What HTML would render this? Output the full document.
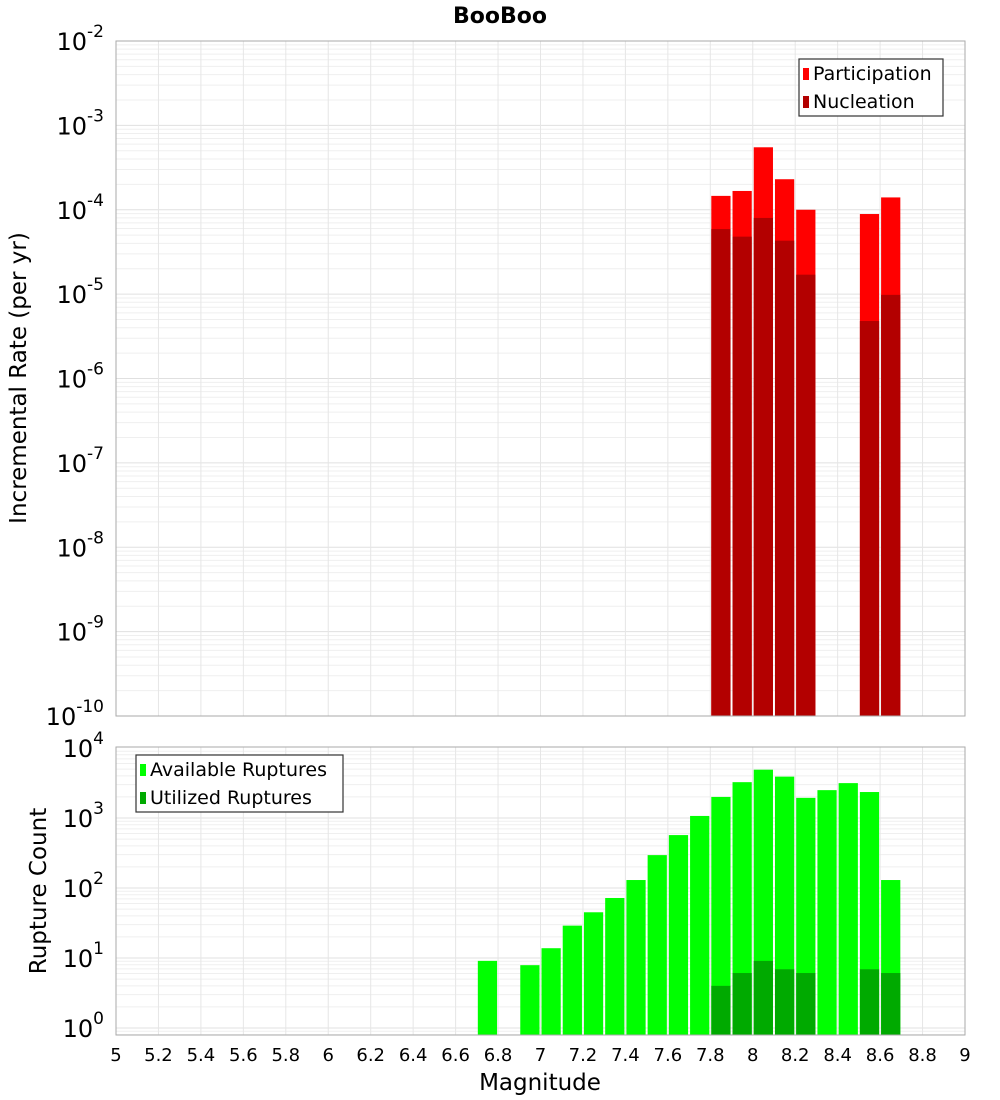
<!DOCTYPE html>
<html><head><meta charset="utf-8"><style>
body{margin:0;background:#fff;}
svg{display:block;font-family:"DejaVu Sans","Liberation Sans",sans-serif;}
</style></head><body>
<svg id="chart" width="1000" height="1100" viewBox="0 0 1000 1100" xmlns="http://www.w3.org/2000/svg">
<text x="500" y="23" text-anchor="middle" font-size="22" font-weight="bold">BooBoo</text>
<g id="top"></g><g id="bot"></g>
<text transform="translate(26,378) rotate(-90)" text-anchor="middle" font-size="23">Incremental Rate (per yr)</text>
<text transform="translate(46,891) rotate(-90)" text-anchor="middle" font-size="23">Rupture Count</text>
<text x="540" y="1090" text-anchor="middle" font-size="23">Magnitude</text>
</svg>
<script>
const topMags = [7.85, 7.95, 8.05, 8.15, 8.25, 8.55, 8.65];
const participation = [1.46e-4, 1.67e-4, 5.5e-4, 2.3e-4, 1.0e-4, 8.9e-5, 1.4e-4];
const nucleation = [5.9e-5, 4.8e-5, 8.0e-5, 4.3e-5, 1.7e-5, 4.8e-6, 9.8e-6];
const availMags = [6.75, 6.95, 7.05, 7.15, 7.25, 7.35, 7.45, 7.55, 7.65, 7.75, 7.85, 7.95, 8.05, 8.15, 8.25, 8.35, 8.45, 8.55, 8.65];
const available = [9.1, 7.9, 13.8, 29, 45, 72, 130, 295, 570, 1070, 2000, 3250, 4900, 3900, 1940, 2500, 3150, 2350, 130];
const utilMags = [7.85, 7.95, 8.05, 8.15, 8.25, 8.55, 8.65];
const utilized = [4.0, 6.1, 9.1, 6.9, 6.1, 6.9, 6.1];
const xTicks = [5,5.2,5.4,5.6,5.8,6,6.2,6.4,6.6,6.8,7,7.2,7.4,7.6,7.8,8,8.2,8.4,8.6,8.8,9];
const topExps = [-10,-9,-8,-7,-6,-5,-4,-3,-2];
const botExps = [0,1,2,3,4];

const NS="http://www.w3.org/2000/svg";
const X0=116,X1=965;
const xs=m=>X0+(m-5)/4*(X1-X0);
function mk(p,tag,at){const e=document.createElementNS(NS,tag);for(const k in at)e.setAttribute(k,at[k]);p.appendChild(e);return e;}
function panel(g,yTop,yBot,yFn,lo,hi,exps){
  mk(g,'rect',{x:X0,y:yTop,width:X1-X0,height:yBot-yTop,fill:'#fff'});
  for(let d=lo;d<hi;d++)for(let k=1;k<10;k++){const v=k*Math.pow(10,d);const y=yFn(v);if(y<yTop||y>yBot)continue;
    const l=mk(g,'line',{x1:X0,x2:X1,y1:y,y2:y,stroke:k==1?'#e0e0e0':'#efefef','stroke-width':1});
    }
  for(const t of xTicks){const x=xs(t);const l=mk(g,'line',{x1:x,x2:x,y1:yTop,y2:yBot,stroke:'#e6e6e6','stroke-width':1});
    }
  for(const e of exps){const y=yFn(Math.pow(10,e));
    const t=mk(g,'text',{x:104,y:y+9,'text-anchor':'end','font-size':24});
    
    const a=mk(t,'tspan',{});a.textContent='10';const b=mk(t,'tspan',{dy:-13,'font-size':17});b.textContent=String(e);}
}
function bars(g,mags,vals,yFn,yBot,color,name){
  mags.forEach((m,i)=>{const x0=xs(m-0.05)+1,x1=xs(m+0.05)-1,y=yFn(vals[i]);
    const r=mk(g,'rect',{x:x0,y:y,width:x1-x0,height:yBot-y,fill:color});
    });
}
function legend(g,x,y,w,items){
  const r=mk(g,'rect',{x:x,y:y,width:w,height:57,fill:'#fff',stroke:'#333','stroke-width':1.2});
  
  items.forEach((it,i)=>{const yy=y+14+i*28;
    mk(g,'rect',{x:x+4,y:yy-5,width:6,height:12,fill:it[1]});
    const t=mk(g,'text',{x:x+14,y:yy+7,'font-size':19});t.textContent=it[0];
    });
}
const gt=document.getElementById('top');
const TT=41,TB=716;
const yT=v=>TT+(-2-Math.log10(v))*(TB-TT)/8;
panel(gt,TT,TB,yT,-10,-2,topExps);
bars(gt,topMags,participation,yT,TB,'#ff0000','participation-bar');
bars(gt,topMags,nucleation,yT,TB,'#b30000','nucleation-bar');
mk(gt,'rect',{x:X0,y:TT,width:X1-X0,height:TB-TT,fill:'none',stroke:'#aaa','stroke-width':1});
legend(gt,799,59,144,[['Participation','#ff0000'],['Nucleation','#b30000']]);
const gb=document.getElementById('bot');
const BT=747,BB=1035;
const yB=v=>748+(4-Math.log10(v))*70;
panel(gb,BT,BB,yB,-1,4,botExps);
bars(gb,availMags,available,yB,BB,'#00ff00','available-bar');
bars(gb,utilMags,utilized,yB,BB,'#00aa00','utilized-bar');
mk(gb,'rect',{x:X0,y:BT,width:X1-X0,height:BB-BT,fill:'none',stroke:'#aaa','stroke-width':1});
legend(gb,136,755,207,[['Available Ruptures','#00ff00'],['Utilized Ruptures','#00aa00']]);
for(const t of xTicks){const e=mk(gb,'text',{x:xs(t),y:1061,'text-anchor':'middle','font-size':18});
  e.textContent=String(t);
  }
</script>
</body></html>
